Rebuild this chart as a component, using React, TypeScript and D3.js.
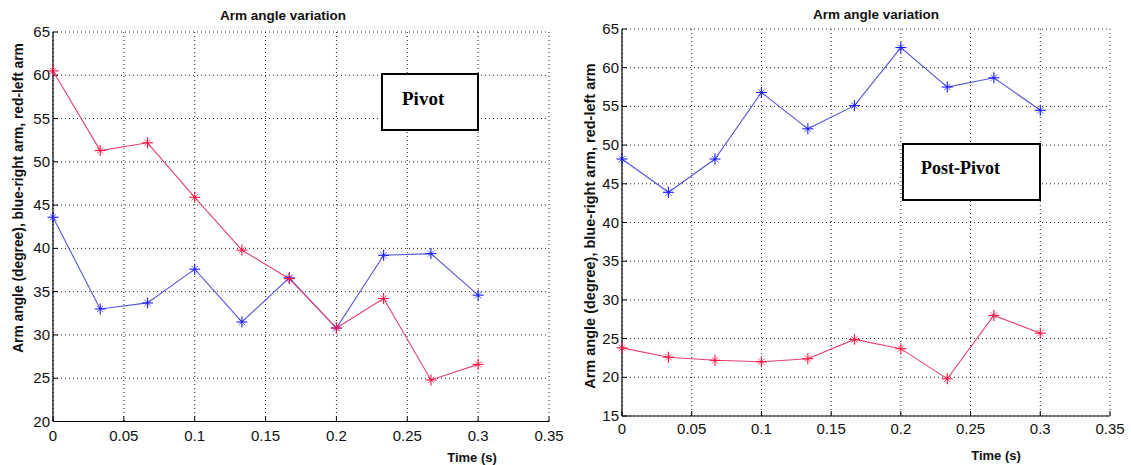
import React from "react";
import * as d3 from "d3";

const times = [0, 0.0333, 0.0667, 0.1, 0.1333, 0.1667, 0.2, 0.2333, 0.2667, 0.3];
const xTicks = [0, 0.05, 0.1, 0.15, 0.2, 0.25, 0.3, 0.35];
const yTicksPivot = [20, 25, 30, 35, 40, 45, 50, 55, 60, 65];
const yTicksPost = [15, 20, 25, 30, 35, 40, 45, 50, 55, 60, 65];

const pivotRight = [43.6, 33.0, 33.7, 37.6, 31.5, 36.6, 30.8, 39.2, 39.4, 34.6];
const pivotLeft = [60.5, 51.3, 52.2, 45.9, 39.8, 36.5, 30.8, 34.2, 24.8, 26.6];
const postRight = [48.2, 43.9, 48.2, 56.8, 52.1, 55.1, 62.6, 57.5, 58.7, 54.5];
const postLeft = [23.8, 22.6, 22.2, 22.0, 22.4, 24.9, 23.7, 19.8, 28.0, 25.7];

const title = "Arm angle variation";
const yLabel = "Arm angle (degree), blue-right arm, red-left arm";
const xLabel = "Time (s)";

const BLUE_LINE = "#5555d5";
const BLUE_MARK = "#1a1aff";
const RED_LINE = "#e4406a";
const RED_MARK = "#ff1040";

type Props = {
  x0: number; x1: number; y0: number; y1: number;
  yTicks: number[];
  right: number[]; left: number[];
  titleX: number; titleY: number;
  xLabX: number; xLabY: number;
  yLabX: number; yLabY: number; yLabFs: number;
  tickLabY: number;
  box: { x: number; y: number; w: number; h: number; text: string; tx: number; ty: number; fs: number };
};

function Marker({ x, y, color }: { x: number; y: number; color: string }) {
  const s = 5.5, d = 3.2;
  return (
    <g stroke={color} strokeWidth={1.1}>
      <line x1={x - s} x2={x + s} y1={y} y2={y} />
      <line x1={x} x2={x} y1={y - s} y2={y + s} />
      <line x1={x - d} x2={x + d} y1={y - d} y2={y + d} strokeWidth={0.7} />
      <line x1={x - d} x2={x + d} y1={y + d} y2={y - d} strokeWidth={0.7} />
    </g>
  );
}

function Chart(p: Props) {
  const xs = d3.scaleLinear().domain([0, 0.35]).range([p.x0, p.x1]);
  const ys = d3.scaleLinear().domain([p.yTicks[0], p.yTicks[p.yTicks.length - 1]]).range([p.y1, p.y0]);
  const line = d3.line<number>().x((_, i) => xs(times[i])).y((v) => ys(v));
  const fmt = (v: number) => String(+v.toFixed(2));
  return (
    <g fontFamily="'Liberation Sans', Arial, sans-serif">
      {xTicks.map((t) => (
        <line key={"gx" + t} x1={xs(t)} x2={xs(t)} y1={p.y0} y2={p.y1} stroke="#222" strokeWidth={1} strokeDasharray="1,3" />
      ))}
      {p.yTicks.map((t) => (
        <line key={"gy" + t} x1={p.x0} x2={p.x1} y1={ys(t)} y2={ys(t)} stroke="#222" strokeWidth={1} strokeDasharray="1,3" />
      ))}
      <line x1={p.x0} x2={p.x0} y1={p.y0} y2={p.y1} stroke="#000" strokeWidth={1.2} />
      <line x1={p.x0} x2={p.x1} y1={p.y1} y2={p.y1} stroke="#000" strokeWidth={1.2} />
      {xTicks.map((t) => (
        <g key={"tx" + t}>
          <line x1={xs(t)} x2={xs(t)} y1={p.y1} y2={p.y1 - 5} stroke="#000" />
          <text x={xs(t)} y={p.tickLabY} fontSize={15} textAnchor="middle" fill="#111">{fmt(t)}</text>
        </g>
      ))}
      {p.yTicks.map((t) => (
        <g key={"ty" + t}>
          <line x1={p.x0} x2={p.x0 + 5} y1={ys(t)} y2={ys(t)} stroke="#000" />
          <text x={p.x0 - 3} y={ys(t) + 5} fontSize={15} textAnchor="end" fill="#111">{t}</text>
        </g>
      ))}
      <path d={line(p.right) || ""} fill="none" stroke={BLUE_LINE} strokeWidth={1.1} />
      <path d={line(p.left) || ""} fill="none" stroke={RED_LINE} strokeWidth={1.1} />
      {p.right.map((v, i) => <Marker key={"mb" + i} x={xs(times[i])} y={ys(v)} color={BLUE_MARK} />)}
      {p.left.map((v, i) => <Marker key={"mr" + i} x={xs(times[i])} y={ys(v)} color={RED_MARK} />)}
      <text x={p.titleX} y={p.titleY} fontSize={13.5} fontWeight="bold" textAnchor="middle" fill="#111">{title}</text>
      <text x={p.xLabX} y={p.xLabY} fontSize={13} fontWeight="bold" textAnchor="middle" fill="#111">{xLabel}</text>
      <text transform={`translate(${p.yLabX},${p.yLabY}) rotate(-90)`} fontSize={p.yLabFs} fontWeight="bold" textAnchor="middle" fill="#111">{yLabel}</text>
      <rect x={p.box.x} y={p.box.y} width={p.box.w} height={p.box.h} fill="#fff" stroke="#000" strokeWidth={2} />
      <text x={p.box.tx} y={p.box.ty} fontSize={p.box.fs} fontWeight="bold" fontFamily="'Liberation Serif', 'Times New Roman', serif" fill="#000">{p.box.text}</text>
    </g>
  );
}

export default function App() {
  return (
    <div style={{ position: "absolute", left: 0, top: 0 }}>
      <svg width={1131} height={465} style={{ display: "block", background: "#fff" }}>
        <Chart x0={53} x1={549} y0={32} y1={421.5} yTicks={yTicksPivot}
          right={pivotRight} left={pivotLeft}
          titleX={283} titleY={20} xLabX={472} xLabY={462}
          yLabX={23} yLabY={198} yLabFs={13.8} tickLabY={441}
          box={{ x: 382, y: 74, w: 96, h: 56, text: "Pivot", tx: 402, ty: 105, fs: 19 }} />
        <Chart x0={622} x1={1110} y0={29} y1={416} yTicks={yTicksPost}
          right={postRight} left={postLeft}
          titleX={876} titleY={19} xLabX={996} xLabY={460}
          yLabX={595} yLabY={226} yLabFs={14.5} tickLabY={434}
          box={{ x: 903, y: 144, w: 137, h: 56, text: "Post-Pivot", tx: 921, ty: 174, fs: 18 }} />
      </svg>
    </div>
  );
}
